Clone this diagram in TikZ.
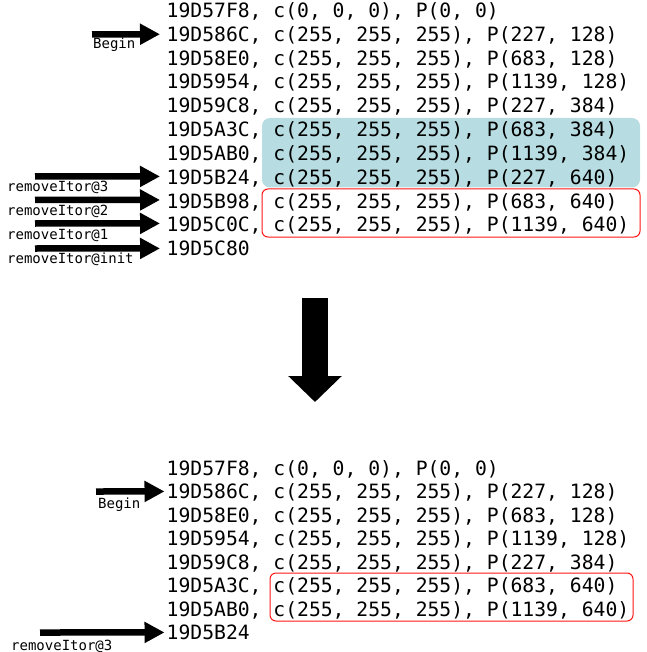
\documentclass[tikz,border=0pt]{standalone}
\usepackage{fontspec}
\newfontfamily\rowfont{DejaVu Sans Mono}
\usetikzlibrary{arrows.meta}
\definecolor{hlteal}{RGB}{183,221,226}
\definecolor{boxred}{RGB}{255,20,20}
\tikzset{
  rowtext/.style={anchor=base west, inner sep=0pt, font=\rowfont\fontsize{19.7}{20}\selectfont, text height=14.3pt, text depth=0pt},
  lbl/.style={anchor=base west, inner sep=0pt, font=\rowfont\fontsize{14}{14}\selectfont},
  ptr/.style={line width=6.5pt, -{Triangle[length=20pt,width=20pt]}},
  bigptr/.style={line width=26pt, -{Triangle[length=26pt,width=52pt]}},
  tealbox/.style={fill=hlteal, draw=none, rounded corners=8pt},
  redbox/.style={draw=boxred, line width=1pt, rounded corners=6pt},
}
\begin{document}
\begin{tikzpicture}[x=1pt,y=-1pt]
\useasboundingbox (0,0) rectangle (646,652);
% highlight boxes
\path[tealbox] (262,118) rectangle (640,187.5);
\draw[redbox] (262,189) rectangle (640,237);
\draw[redbox] (270,573) rectangle (633,621);
% top listing
\node[rowtext] (t0) at (166.5,17.6) {19D57F8, c(0, 0, 0), P(0, 0)};
\node[rowtext] (t1) at (166.5,41.4) {19D586C, c(255, 255, 255), P(227, 128)};
\node[rowtext] (t2) at (166.5,65.2) {19D58E0, c(255, 255, 255), P(683, 128)};
\node[rowtext] (t3) at (166.5,89.0) {19D5954, c(255, 255, 255), P(1139, 128)};
\node[rowtext] (t4) at (166.5,112.8) {19D59C8, c(255, 255, 255), P(227, 384)};
\node[rowtext] (t5) at (166.5,136.6) {19D5A3C, c(255, 255, 255), P(683, 384)};
\node[rowtext] (t6) at (166.5,160.4) {19D5AB0, c(255, 255, 255), P(1139, 384)};
\node[rowtext] (t7) at (166.5,184.2) {19D5B24, c(255, 255, 255), P(227, 640)};
\node[rowtext] (t8) at (166.5,208.0) {19D5B98, c(255, 255, 255), P(683, 640)};
\node[rowtext] (t9) at (166.5,231.8) {19D5C0C, c(255, 255, 255), P(1139, 640)};
\node[rowtext] (t10) at (166.5,255.6) {19D5C80};
% top pointers
\coordinate (sb) at (92,34.3);
\coordinate (s3) at (35,176.5);
\coordinate (s2) at (35,200);
\coordinate (s1) at (35,223.5);
\coordinate (si) at (35,248.5);
\draw[ptr] (sb) -- ([xshift=-6.5pt]t1.west);
\draw[ptr] (s3) -- ([xshift=-6.5pt,yshift=0.6pt]t7.west);
\draw[ptr] (s2) -- ([xshift=-6.5pt,yshift=0.9pt]t8.west);
\draw[ptr] (s1) -- ([xshift=-6.5pt,yshift=1.2pt]t9.west);
\draw[ptr] (si) -- ([xshift=-6.5pt]t10.west);
\node[lbl] (lb) at (93,48.3) {Begin};
\node[lbl] (l3) at (7,191.7) {removeItor@3};
\node[lbl] (l2) at (7,215.7) {removeItor@2};
\node[lbl] (l1) at (7,239.3) {removeItor@1};
\node[lbl] (li) at (7,263.3) {removeItor@init};
% big transition arrow
\coordinate (dtop) at (315,298);
\coordinate (dbot) at (315,402);
\draw[bigptr] (dtop) -- (dbot);
% bottom listing
\node[rowtext] (b0) at (166.5,475.1) {19D57F8, c(0, 0, 0), P(0, 0)};
\node[rowtext] (b1) at (166.5,498.6) {19D586C, c(255, 255, 255), P(227, 128)};
\node[rowtext] (b2) at (166.5,522.1) {19D58E0, c(255, 255, 255), P(683, 128)};
\node[rowtext] (b3) at (166.5,545.6) {19D5954, c(255, 255, 255), P(1139, 128)};
\node[rowtext] (b4) at (166.5,569.1) {19D59C8, c(255, 255, 255), P(227, 384)};
\node[rowtext] (b5) at (166.5,592.6) {19D5A3C, c(255, 255, 255), P(683, 640)};
\node[rowtext] (b6) at (166.5,616.1) {19D5AB0, c(255, 255, 255), P(1139, 640)};
\node[rowtext] (b7) at (166.5,639.6) {19D5B24};
\coordinate (bsb) at (96,491.5);
\coordinate (bs3) at (40,632.5);
\draw[ptr] (bsb) -- ([xshift=-2pt]b1.west);
\draw[ptr] (bs3) -- ([xshift=-2pt]b7.west);
\node[lbl] (blb) at (98,508.3) {Begin};
\node[lbl] (bl3) at (11,650) {removeItor@3};
\end{tikzpicture}
\end{document}
